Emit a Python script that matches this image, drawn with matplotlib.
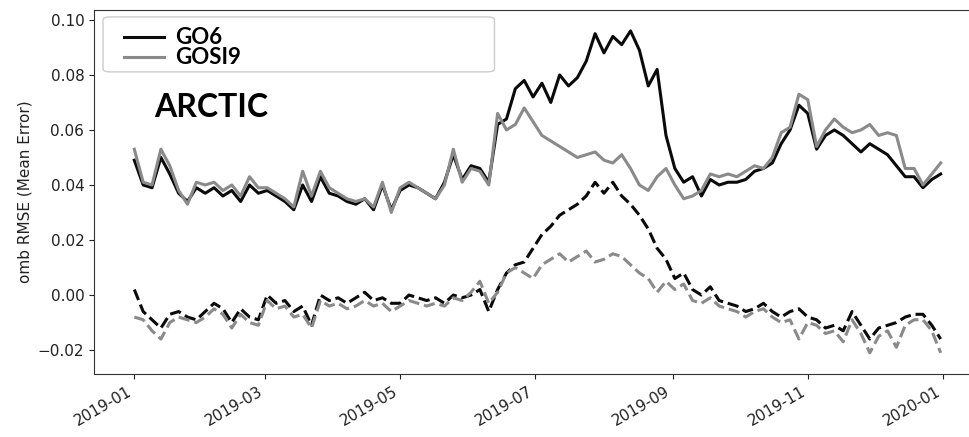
import numpy as np
import pandas as pd
import matplotlib
matplotlib.use("Agg")
import matplotlib.pyplot as plt
import matplotlib.dates as mdates
from matplotlib.patches import FancyBboxPatch

plt.rcParams['font.size'] = 11

# sampled every 4 days through 2019
dates = pd.date_range('2019-01-01', '2019-12-31', freq='4D')

go6_rmse = [0.049, 0.040, 0.039, 0.050, 0.044, 0.037, 0.034, 0.039, 0.037, 0.039,
            0.036, 0.038, 0.034, 0.040, 0.037, 0.038, 0.036, 0.034, 0.031, 0.040,
            0.034, 0.043, 0.037, 0.036, 0.034, 0.033, 0.035, 0.031, 0.040, 0.031,
            0.038, 0.040, 0.039, 0.037, 0.035, 0.041, 0.051, 0.042, 0.047, 0.046,
            0.041, 0.062, 0.064, 0.075, 0.078, 0.072, 0.077, 0.070, 0.080, 0.076,
            0.079, 0.085, 0.095, 0.088, 0.094, 0.091, 0.096, 0.089, 0.076, 0.082,
            0.058, 0.046, 0.041, 0.043, 0.036, 0.042, 0.040, 0.041, 0.041, 0.042,
            0.045, 0.046, 0.048, 0.055, 0.060, 0.069, 0.066, 0.053, 0.058, 0.060,
            0.058, 0.055, 0.052, 0.055, 0.053, 0.051, 0.047, 0.043, 0.043, 0.039,
            0.042, 0.044]
gosi9_rmse = [0.053, 0.041, 0.040, 0.053, 0.047, 0.038, 0.033, 0.041, 0.040, 0.041,
              0.038, 0.040, 0.036, 0.043, 0.039, 0.039, 0.037, 0.035, 0.032, 0.045,
              0.036, 0.045, 0.039, 0.037, 0.035, 0.034, 0.035, 0.032, 0.041, 0.030,
              0.039, 0.041, 0.039, 0.037, 0.035, 0.040, 0.053, 0.041, 0.046, 0.045,
              0.040, 0.066, 0.060, 0.062, 0.068, 0.063, 0.058, 0.056, 0.054, 0.052,
              0.050, 0.051, 0.052, 0.049, 0.048, 0.051, 0.046, 0.040, 0.038, 0.043,
              0.046, 0.040, 0.035, 0.036, 0.038, 0.044, 0.043, 0.044, 0.043, 0.045,
              0.047, 0.046, 0.050, 0.059, 0.061, 0.073, 0.071, 0.054, 0.060, 0.064,
              0.061, 0.059, 0.060, 0.062, 0.058, 0.059, 0.058, 0.046, 0.046, 0.040,
              0.044, 0.048]
go6_me = [0.002, -0.006, -0.009, -0.012, -0.007, -0.006, -0.008, -0.009, -0.006, -0.003,
          -0.005, -0.010, -0.005, -0.008, -0.009, 0.000, -0.003, -0.002, -0.006, -0.004,
          -0.011, 0.000, -0.002, -0.001, -0.003, -0.001, 0.001, -0.002, -0.001, -0.003,
          -0.003, 0.000, -0.001, -0.002, -0.001, -0.003, 0.000, -0.001, 0.000, 0.002,
          -0.006, 0.002, 0.008, 0.011, 0.012, 0.017, 0.022, 0.025, 0.029, 0.031,
          0.033, 0.036, 0.041, 0.037, 0.041, 0.036, 0.033, 0.029, 0.024, 0.017,
          0.013, 0.006, 0.008, 0.002, 0.000, 0.003, -0.002, -0.003, -0.004, -0.006,
          -0.005, -0.003, -0.006, -0.008, -0.006, -0.005, -0.008, -0.009, -0.012, -0.011,
          -0.013, -0.006, -0.011, -0.016, -0.012, -0.011, -0.010, -0.008, -0.007, -0.007,
          -0.011, -0.016]
gosi9_me = [-0.008, -0.009, -0.013, -0.016, -0.010, -0.008, -0.009, -0.010, -0.008, -0.005,
            -0.007, -0.012, -0.007, -0.010, -0.011, -0.002, -0.005, -0.004, -0.008, -0.007,
            -0.012, -0.002, -0.004, -0.003, -0.005, -0.004, -0.002, -0.004, -0.003, -0.006,
            -0.004, -0.002, -0.003, -0.004, -0.003, -0.004, -0.001, -0.002, 0.001, 0.005,
            -0.003, 0.001, 0.008, 0.010, 0.008, 0.006, 0.011, 0.013, 0.015, 0.012,
            0.014, 0.016, 0.012, 0.013, 0.015, 0.014, 0.011, 0.008, 0.006, 0.001,
            0.005, 0.002, 0.004, -0.002, -0.003, -0.001, -0.004, -0.005, -0.006, -0.008,
            -0.006, -0.005, -0.008, -0.010, -0.009, -0.016, -0.010, -0.011, -0.014, -0.013,
            -0.017, -0.009, -0.014, -0.021, -0.015, -0.013, -0.019, -0.011, -0.009, -0.009,
            -0.013, -0.021]

black = '#0a0a0a'
grey = '#8a8a8a'

fig = plt.figure(figsize=(9.69, 4.37), dpi=100)
ax = fig.add_axes([94/969, 63/437, 887/969, 364/437])

ax.plot(dates, go6_rmse, color=black, lw=2.2, label='GO6')
ax.plot(dates, gosi9_rmse, color=grey, lw=2.2, label='GOSI9')
ax.plot(dates, go6_me, color=black, lw=2.2, ls='--')
ax.plot(dates, gosi9_me, color=grey, lw=2.2, ls='--')

ax.set_ylim(-0.0287, 0.1036)
ax.xaxis.set_major_locator(mdates.MonthLocator(bymonth=[1, 3, 5, 7, 9, 11]))
ax.xaxis.set_major_formatter(mdates.DateFormatter('%Y-%m'))
for lab in ax.get_xticklabels():
    lab.set_rotation(30)
    lab.set_ha('right')
for s in ax.spines.values():
    s.set_color('#333333')
ax.tick_params(colors='#222222')
ax.set_ylabel('omb RMSE (Mean Error)', color='#222222')

# legend box drawn separately so it can be wide like the original
frame = FancyBboxPatch((0.0102, 0.830), 0.4413, 0.151, transform=ax.transAxes,
                       boxstyle='round,pad=0,rounding_size=0.008',
                       facecolor='white', edgecolor='#cccccc', lw=1, zorder=4)
ax.add_patch(frame)
leg = ax.legend(loc='upper left', bbox_to_anchor=(0.0339, 0.952), frameon=False,
                borderaxespad=0, borderpad=0, handlelength=1.8, handletextpad=0.5,
                labelspacing=-0.05, prop={'family': 'Lato', 'weight': 'bold', 'size': 16})
leg.set_zorder(5)

ax.text(0.0677, 0.733, 'ARCTIC', transform=ax.transAxes, ha='left', va='center',
        fontfamily='Lato', fontweight='bold', fontsize=23, color='black')

fig.savefig('out.png', dpi=100)
